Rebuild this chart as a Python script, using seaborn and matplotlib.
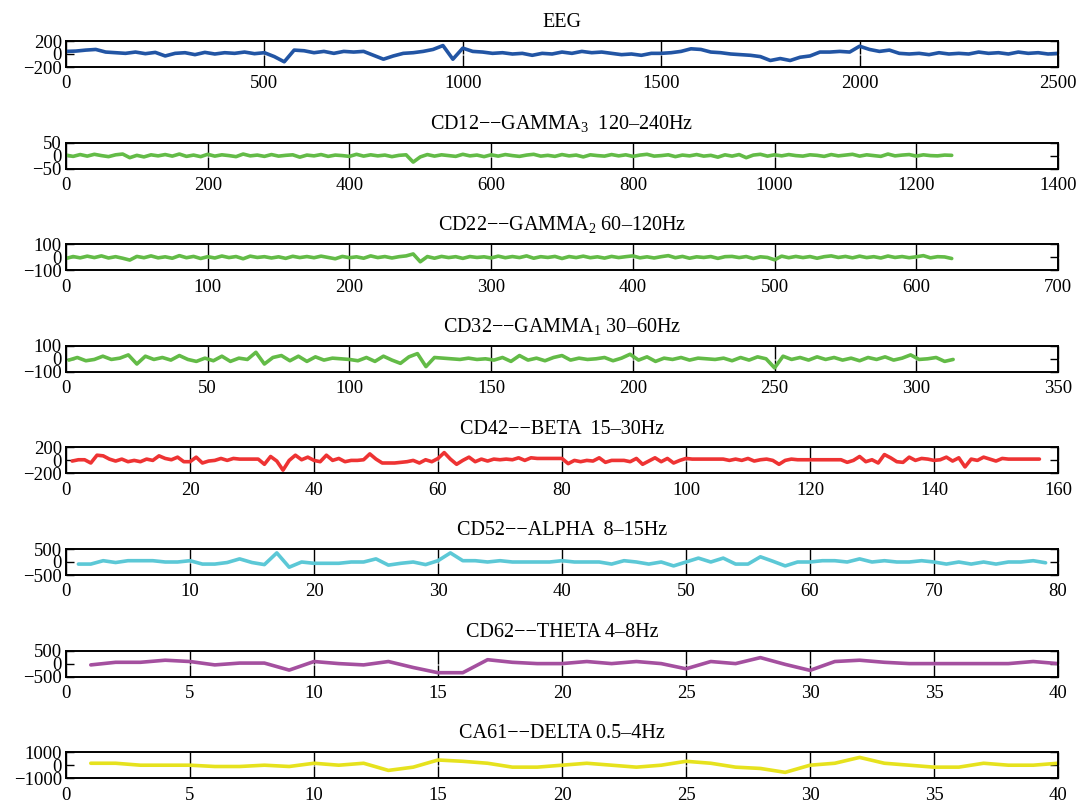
import matplotlib
matplotlib.use("Agg")
import matplotlib.pyplot as plt
import numpy as np
import seaborn as sns

# ---- data ----
eeg_x = list(range(0, 2501, 25))
eeg_y = [40, 45, 60, 70, 30, 20, 10, 30, 5, 25,
         -30, 10, 20, -10, 25, 0, 20, 10, 30, 5,
         20, -40, -120, 60, 50, 20, 40, 10, 40, 30,
         40, -20, -80, -30, 10, 20, 40, 70, 130, -80,
         90, 40, 30, 10, 20, 0, 10, -20, 10, 0,
         30, 10, 40, 20, 30, 10, -10, 0, -20, 10,
         10, 20, 40, 80, 70, 30, 20, 0, -10, -20,
         -40, -100, -70, -100, -50, -30, 30, 30, 40, 30,
         120, 70, 40, 60, 10, 0, 10, -10, 20, 0,
         10, 0, 30, 10, 20, 0, 30, 10, 20, 0,
         10]

g3_x = list(range(0, 1251, 10))
g3_y = [2, -3, 4, -2, 5, 0, -4, 3, 6, -8,
        1, -5, 3, -1, 4, -2, 6, -3, 2, -4,
        5, -2, 3, 0, -4, 6, -1, 2, -3, 4,
        -2, 1, 3, -6, 2, -1, 4, -3, 2, 0,
        -3, 5, -2, 3, -1, 2, -4, 1, 3, -25,
        -5, 4, -2, 3, 0, -3, 5, -1, 2, -4,
        3, -2, 4, 0, -3, 2, 5, -2, 1, -3,
        4, -1, 2, -5, 3, 0, -2, 4, -1, 3,
        -3, 2, 5, -2, 0, 3, -4, 2, -1, 4,
        -2, 1, -6, 3, -2, 4, -8, 2, 5, -2,
        3, -1, 4, 0, -2, 3, 1, -3, 4, -1,
        2, 5, -2, 3, 0, -3, 6, -1, 2, 4,
        -2, 3, 0, -1, 2, 1]

g2_x = list(range(0, 626, 5))
g2_y = [-10, 5, -5, 8, -3, 10, -6, 4, -8, -22,
        6, -4, 10, -5, 3, -8, 12, -4, 6, -10,
        4, -6, 9, -3, 5, -12, 8, -2, 4, -6,
        3, -9, 7, -3, 5, -4, 8, -2, -12, 6,
        -4, 3, -8, 10, -3, 5, -6, 4, 10, 25,
        -35, 5, -8, 6, -3, 4, -9, 5, -2, 3,
        -6, 8, -4, 5, -3, 10, -8, 4, -2, 6,
        -10, 5, -3, 8, -4, 3, -7, 6, -3, 4,
        10, -5, 3, -6, 4, 12, -4, 6, -8, 3,
        -2, 5, -9, 4, 6, -3, 5, -10, 3, -2,
        -20, 8, -4, 6, -3, 5, -8, 4, 10, -2,
        6, -5, 8, -3, 4, -6, 9, -2, 5, -4,
        3, 12, -5, 4, 2, -10]

g1_x = list(range(1, 314, 3))
g1_y = [-10, 10, -15, -5, 20, -5, 5, 30, -40, 20,
        -5, 10, -10, 25, -5, -20, 5, -15, 20, -20,
        5, -5, 50, -40, 10, 25, -15, 20, -20, 15,
        -10, 5, 0, -5, -15, 10, -20, 20, -10, -35,
        15, 40, -60, 10, 5, 0, -5, 5, -5, 0,
        -10, 10, -20, 25, -10, 5, -15, 10, 25, -10,
        5, -5, 0, 10, -15, 5, 35, -10, 15, -20,
        5, -5, 10, -10, 5, 0, -5, 5, -15, 10,
        -10, 15, 0, -70, 20, -5, 10, -10, 15, -5,
        10, -10, 5, -15, 10, -5, 15, -10, 5, 30,
        -5, 0, 10, -20, -5]

beta_x = list(range(1, 158))
beta_y = [-10, 10, 10, -40, 80, 70, 20, -10, 20, -20,
          0, -20, 20, 0, 70, 30, 10, 50, -20, -20,
          50, -40, -10, 0, 30, 0, 30, 20, 20, 20,
          20, -60, 60, -10, -150, 0, 80, 10, 50, 0,
          -20, 80, 0, 30, -20, 0, 0, 10, 100, 20,
          -40, -40, -40, -30, -20, 0, -40, 10, -20, 30,
          120, 20, -60, 0, 50, -20, 20, -10, 20, 10,
          20, 10, 40, 0, 40, 30, 30, 30, 30, 30,
          -50, 0, -20, 0, -10, 40, -30, 0, 0, 0,
          -20, 30, -60, -10, 40, -20, 30, -40, 0, 30,
          20, 20, 20, 20, 20, 20, 0, 20, 0, 30,
          -10, 10, 20, 0, -60, 0, 20, 10, 10, 10,
          10, 10, 10, 10, 10, -30, 0, 60, -20, 10,
          -40, 90, 40, -20, -30, 50, 0, 30, 20, 0,
          10, 50, -10, 40, -100, 20, 0, 50, 20, -10,
          30, 20, 20, 20, 20, 20, 20]

alpha_x = list(range(1, 80))
alpha_y = [-80, -80, 50, -20, 50, 50, 50, 0, 0, 50,
           -80, -80, -20, 120, -20, -100, 350, -200, 0, -50,
           -50, -50, 0, 0, 120, -120, -50, 0, -100, 50,
           350, 50, 50, 0, 50, 0, 0, 0, 0, 50,
           0, 0, 0, -80, 50, 0, -80, 0, -150, 0,
           150, 0, 150, -80, -80, 200, 30, -150, 0, 0,
           50, 50, 0, 120, 0, 50, 0, 0, 50, 0,
           -80, 0, -80, 0, -80, 0, 0, 50, -30]

theta_x = list(range(1, 41))
theta_y = [-50, 50, 50, 130, 80, -50, 20, 20, -250, 80,
           0, -50, 80, -150, -350, -350, 150, 50, 0, 0,
           80, 0, 80, 0, -200, 80, 0, 230, -30, -260,
           80, 130, 50, 0, 0, 0, 0, 0, 80, 0]

delta_x = list(range(1, 41))
delta_y = [150, 150, 0, 0, 0, -100, -100, 0, -100, 150,
           0, 150, -400, -150, 400, 300, 150, -150, -150, 0,
           150, 0, -150, 0, 300, 150, -150, -250, -550, 0,
           150, 600, 150, 0, -150, -150, 150, 0, 0, 150]

titles = ["EEG",
          "CD12\u2212\u2212GAMMA$_3$  120\u2013240Hz",
          "CD22\u2212\u2212GAMMA$_2$ 60\u2013120Hz",
          "CD32\u2212\u2212GAMMA$_1$ 30\u201360Hz",
          "CD42\u2212\u2212BETA  15\u201330Hz",
          "CD52\u2212\u2212ALPHA  8\u201315Hz",
          "CD62\u2212\u2212THETA 4\u20138Hz",
          "CA61\u2212\u2212DELTA 0.5\u20134Hz"]
colors = ["#2255A4", "#63BB47", "#63BB47", "#63BB47",
          "#EE3333", "#5CC8D6", "#A4509F", "#E6E21E"]
ylims = [200, 50, 100, 100, 200, 500, 500, 1000]
xmaxes = [2500, 1400, 700, 350, 160, 80, 40, 40]
xsteps = [500, 200, 100, 50, 20, 10, 5, 5]

series = [(eeg_x, eeg_y), (g3_x, g3_y), (g2_x, g2_y), (g1_x, g1_y),
          (beta_x, beta_y), (alpha_x, alpha_y), (theta_x, theta_y),
          (delta_x, delta_y)]

sns.set_style("white")
plt.rcParams["font.family"] = ["Liberation Serif", "DejaVu Serif"]
plt.rcParams["mathtext.fontset"] = "custom"
plt.rcParams["mathtext.rm"] = "Liberation Serif"
plt.rcParams["mathtext.it"] = "Liberation Serif:italic"
plt.rcParams["axes.unicode_minus"] = True
plt.rcParams["text.color"] = "black"
plt.rcParams["xtick.color"] = "black"
plt.rcParams["ytick.color"] = "black"

W, H = 1081, 809
fig = plt.figure(figsize=(W / 100, H / 100), dpi=100)

left_px, right_px = 66, 1058
ax_h = 26
for i, ((xs, ys), title) in enumerate(zip(series, titles)):
    top_px = 41 + 101.6 * i
    ax = fig.add_axes([left_px / W, 1 - (top_px + ax_h) / H,
                       (right_px - left_px) / W, ax_h / H])
    sns.lineplot(x=xs, y=ys, ax=ax, color=colors[i], linewidth=2.6)
    lim = ylims[i]
    ax.set_ylim(-lim, lim)
    ax.set_xlim(0, xmaxes[i])
    ax.set_yticks([-lim, 0, lim])
    ax.set_xticks(np.arange(0, xmaxes[i] + 1, xsteps[i]))
    ax.tick_params(axis="x", direction="in", top=True, bottom=True,
                   length=9, width=1.0, pad=6, labelsize=13.5,
                   colors="black", labelcolor="black")
    ax.tick_params(axis="y", direction="in", left=True, right=True,
                   length=6, width=1.0, pad=3, labelsize=13.5,
                   colors="black", labelcolor="black")
    for sp in ax.spines.values():
        sp.set_visible(True)
        sp.set_linewidth(1.4)
        sp.set_color("black")
    ax.set_title(title, fontsize=14.5, pad=10, color="black")
    ax.set_xlabel("")
    ax.set_ylabel("")

fig.savefig("out.png", dpi=100)
